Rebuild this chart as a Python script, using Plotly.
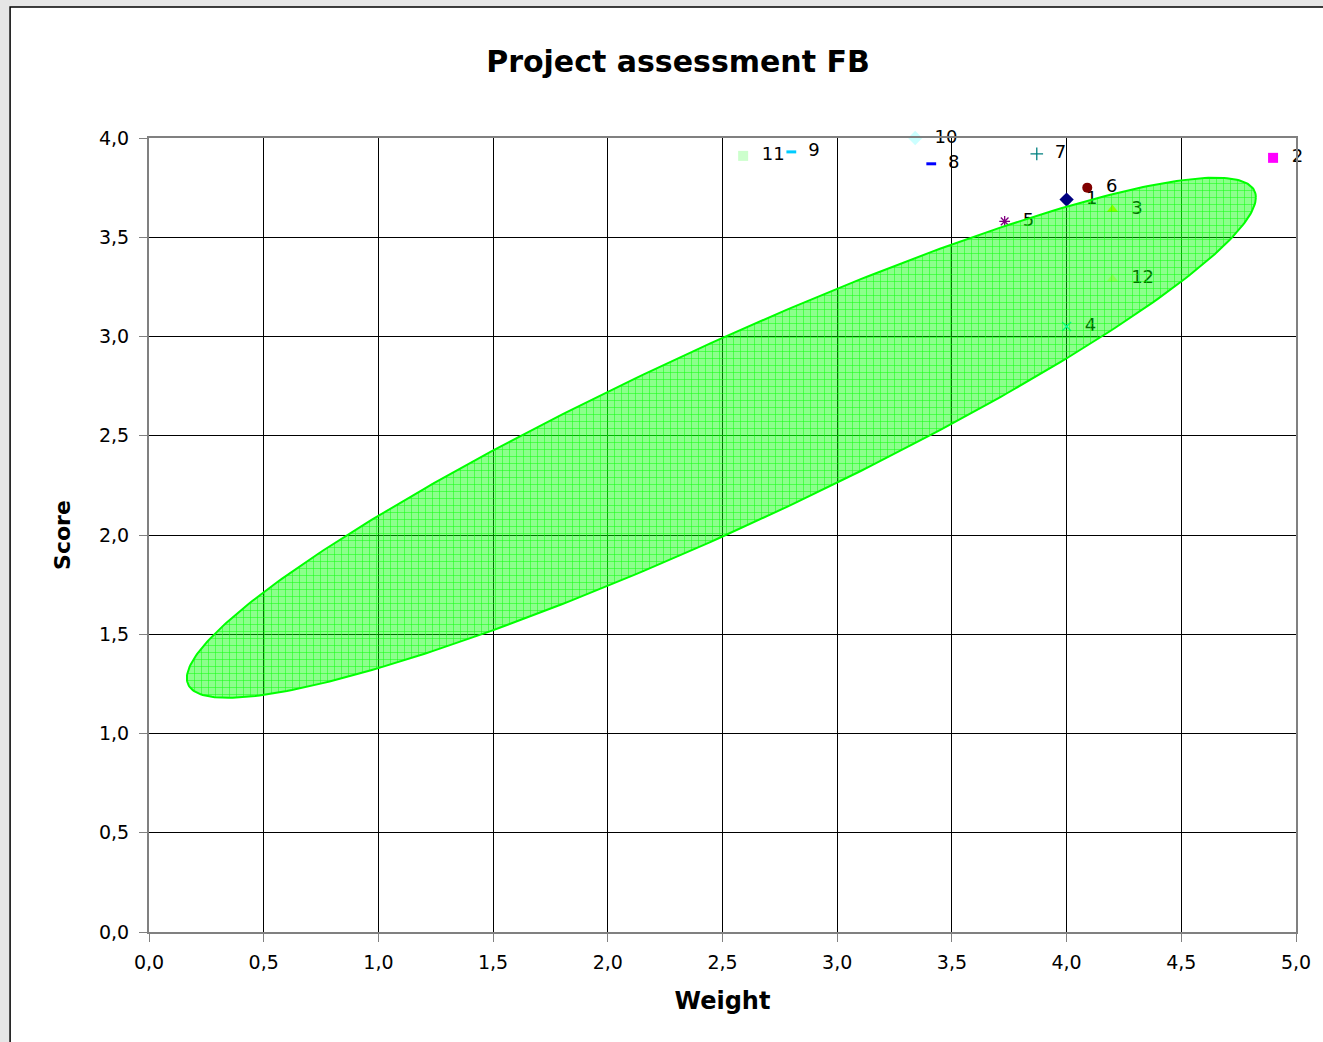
import numpy as np
import plotly.graph_objects as go

# ---- data ----
labels = ["1", "2", "3", "4", "5", "6", "7", "8", "9", "10", "11", "12"]
weight = [4.00, 4.90, 4.20, 4.00, 3.73, 4.09, 3.87, 3.41, 2.80, 3.34, 2.59, 4.20]
score = [3.69, 3.90, 3.64, 3.05, 3.58, 3.75, 3.92, 3.87, 3.93, 4.00, 3.91, 3.29]
symbols = ["diamond", "square", "triangle-up", "x-thin", "asterisk", "circle",
           "cross-thin", "line-ew", "line-ew", "diamond", "square", "triangle-up"]
colors = ["#000080", "#ff00ff", "#ffff00", "#00ffff", "#800080", "#800000",
          "#008080", "#0000ff", "#00ccff", "#ccffff", "#ccffcc", "#ffff99"]

# ellipse parameters (centre, half-widths, phase)
ell_cx, ell_cy = 2.495, 2.49
ell_ax, ell_ay = 2.33, 1.31
ell_phase = 0.392

x_ticks = [0, 0.5, 1, 1.5, 2, 2.5, 3, 3.5, 4, 4.5, 5]
y_ticks = [0, 0.5, 1, 1.5, 2, 2.5, 3, 3.5, 4]

FONT = "DejaVu Sans, Verdana, sans-serif"

fig = go.Figure()

line_symbols = {"x-thin", "asterisk", "cross-thin", "line-ew"}
for lab, x, y, sym, col in zip(labels, weight, score, symbols, colors):
    if sym in line_symbols:
        size = 9 if sym != "line-ew" else 7
        marker = dict(symbol=sym, size=size, color=col,
                      line=dict(color=col, width=3 if sym == "line-ew" else 1.3))
    else:
        sz = {"circle": 10, "diamond": 11}.get(sym, 10)
        marker = dict(symbol=sym, size=sz, color=col, line=dict(width=0))
    fig.add_trace(go.Scatter(
        x=[x], y=[y], mode="markers+text", marker=marker,
        text=["\u00a0\u00a0" + lab], textposition="middle right",
        textfont=dict(family=FONT, size=18, color="black"),
        cliponaxis=False, showlegend=False, hoverinfo="skip"))

t = np.linspace(0, 2 * np.pi, 400)
ex = ell_cx + ell_ax * np.cos(t)
ey = ell_cy + ell_ay * np.cos(t + ell_phase)
fig.add_trace(go.Scatter(
    x=ex, y=ey, mode="lines", fill="toself",
    fillcolor="rgba(0,255,0,0.45)",
    fillpattern=dict(shape="+", size=7, solidity=0.15, fillmode="replace",
                     fgcolor="rgba(0,255,0,0.85)", bgcolor="rgba(0,255,0,0.45)"),
    line=dict(color="#00ff00", width=2),
    showlegend=False, hoverinfo="skip"))

axis_common = dict(
    showgrid=True, gridcolor="black", gridwidth=1,
    showline=True, linecolor="#808080", linewidth=2, mirror=True,
    ticks="outside", ticklen=8, tickcolor="#808080", tickwidth=1,
    tickformat=".1f", zeroline=False,
    tickfont=dict(family=FONT, size=19, color="black"),
)

fig.update_xaxes(range=[0, 5], tickvals=x_ticks, ticklabelstandoff=4,
                 title=dict(text="<b>Weight</b>", font=dict(family=FONT, size=24, color="black"),
                            standoff=20),
                 **axis_common)
fig.update_yaxes(range=[0, 4], tickvals=y_ticks, ticklabelstandoff=6,
                 title=dict(text="<b>Score</b>", font=dict(family=FONT, size=22, color="black"),
                            standoff=22),
                 **axis_common)

W, H = 1323, 1042
ml, mr, mt, mb = 149, 18, 138, 110
pw, ph = W - ml - mr, H - mt - mb

fig.add_shape(type="rect", xref="paper", yref="paper", layer="below",
              x0=(9 - ml) / pw, x1=(W + 20 - ml) / pw,
              y0=-(mb + 20) / ph, y1=(H - 7 - mb) / ph,
              fillcolor="white", line=dict(color="black", width=1.5))

fig.update_layout(
    width=W, height=H,
    margin=dict(l=ml, r=mr, t=mt, b=mb),
    paper_bgcolor="#e6e6e6", plot_bgcolor="#c0c0c0",
    separators=", ",
    title=dict(text="<b>Project assessment FB</b>", x=678 / W, xanchor="center",
               y=1 - 61 / H, yanchor="middle",
               font=dict(family=FONT, size=30, color="black")),
    showlegend=False,
)

fig.write_html("out.html", config={"displayModeBar": False},
               post_script="document.body.style.margin='0';"
                           "document.body.style.background='#e6e6e6';")
